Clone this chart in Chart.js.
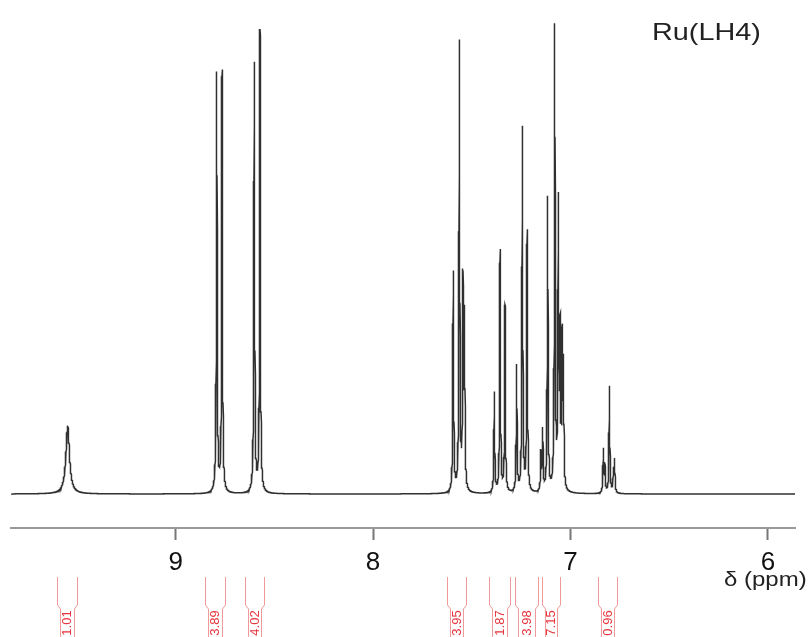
<!DOCTYPE html>
<html lang="en">
<head>
<meta charset="UTF-8" />
<title>Ru(LH4) 1H NMR</title>
<script src="https://cdn.jsdelivr.net/npm/chart.js"></script>
<style>
  html, body { margin: 0; padding: 0; background: #fff; }
  #wrap { width: 809px; height: 637px; }
</style>
</head>
<body>
<div id="wrap"><canvas id="nmr" width="809" height="637"></canvas></div>

<script>
  // peak list (ppm, intensity, half width in ppm)
  const peakShifts = [9.547, 8.792, 8.765, 8.602, 8.573,
                      7.594, 7.563, 7.545, 7.537,
                      7.386, 7.357, 7.332,
                      7.273, 7.244, 7.220,
                      7.150, 7.141, 7.116, 7.080, 7.062, 7.053, 7.043, 7.036,
                      6.834, 6.826, 6.803, 6.783, 6.777];
  const peakHeights = [68, 419, 421, 429, 462,
                       220, 448, 203, 168,
                       100, 242, 186,
                       126, 364, 260,
                       38, 60, 294, 462, 280, 148, 143, 118,
                       43, 27, 107, 21, 32];
  const peakWidths = [0.011, 0.0024, 0.0024, 0.0024, 0.0024,
                      0.0024, 0.0024, 0.0024, 0.0024,
                      0.0024, 0.0024, 0.0024,
                      0.0024, 0.0024, 0.0024,
                      0.0024, 0.0024, 0.0024, 0.0024, 0.0024, 0.0024, 0.0024, 0.0024,
                      0.0024, 0.0024, 0.0024, 0.0024, 0.0024];

  const xTicks = [9, 8, 7, 6];
  const ppmMin = 5.863, ppmMax = 9.834;

  // integration regions
  const integralFrom = [9.601, 8.849, 8.649, 7.627, 7.413, 7.282, 7.146, 6.863];
  const integralTo = [9.497, 8.746, 8.548, 7.525, 7.303, 7.162, 7.047, 6.759];
  const integralLabels = ["1.01", "3.89", "4.02", "3.95", "1.87", "3.98", "7.15", "0.96"];

  // lorentzian line shape sampled on a fine grid (plus the exact peak centres)
  const grid = [];
  const N = 8000;
  for (let i = 0; i <= N; i++) grid.push(ppmMin + (ppmMax - ppmMin) * i / N);
  grid.push(...peakShifts);
  grid.sort((a, b) => a - b);
  const spectrum = grid.map(x => {
    let y = 0;
    for (let k = 0; k < peakShifts.length; k++) {
      const d = (x - peakShifts[k]) / peakWidths[k];
      y += peakHeights[k] / (1 + d * d);
    }
    return { x: x, y: y };
  });

  // draw text squeezed/stretched horizontally like the scanned figure
  function wideText(ctx, txt, x, y, sx) {
    ctx.save();
    ctx.translate(x, y);
    ctx.scale(sx, 1);
    ctx.fillText(txt, 0, 0);
    ctx.restore();
  }

  const extras = {
    id: "extras",
    afterDraw(chart) {
      const ctx = chart.ctx;
      const xs = chart.scales.x;
      ctx.save();

      // integral brackets
      integralFrom.forEach((f, i) => {
        const a = xs.getPixelForValue(f), b = xs.getPixelForValue(integralTo[i]);
        const l = Math.round(Math.min(a, b)) + 0.5, r = Math.round(Math.max(a, b)) - 0.5;
        ctx.strokeStyle = "#f19a9a";
        ctx.lineWidth = 1;
        ctx.beginPath();
        ctx.moveTo(l, 577); ctx.lineTo(l, 605); ctx.lineTo(l + 3, 609); ctx.lineTo(l + 3, 637);
        ctx.moveTo(r, 577); ctx.lineTo(r, 605); ctx.lineTo(r - 3, 609); ctx.lineTo(r - 3, 637);
        ctx.stroke();

        ctx.save();
        ctx.translate((l + r) / 2, 623);
        ctx.rotate(-Math.PI / 2);
        ctx.fillStyle = "#e8343c";
        ctx.font = '13px "Liberation Sans", Arial, sans-serif';
        ctx.textAlign = "center";
        ctx.textBaseline = "middle";
        ctx.fillText(integralLabels[i], 0, 0);
        ctx.restore();
      });

      ctx.fillStyle = "#222";
      ctx.textBaseline = "alphabetic";
      ctx.textAlign = "left";
      ctx.font = '24px "Liberation Sans", Arial, sans-serif';
      wideText(ctx, "Ru(LH4)", 652, 40, 1.2);
      ctx.font = '20px "Liberation Sans", Arial, sans-serif';
      wideText(ctx, "δ (ppm)", 724, 586, 1.2);
      ctx.restore();
    }
  };

  new Chart(document.getElementById("nmr"), {
    type: "line",
    data: {
      datasets: [{
        data: spectrum,
        borderColor: "#303030",
        borderWidth: 1.5,
        pointRadius: 0,
        tension: 0,
        fill: false
      }]
    },
    options: {
      responsive: false,
      animation: false,
      parsing: false,
      normalized: true,
      events: [],
      layout: { padding: { left: 11, right: 14, top: 0, bottom: 0 } },
      plugins: { legend: { display: false }, tooltip: { enabled: false } },
      scales: {
        x: {
          type: "linear",
          reverse: true,
          min: ppmMin,
          max: ppmMax,
          afterBuildTicks: (s) => { s.ticks = xTicks.map(v => ({ value: v })); },
          afterFit: (s) => { s.height = 109; },
          grid: { drawOnChartArea: false, drawTicks: true, tickLength: 12, tickColor: "#777", tickWidth: 2 },
          border: { display: true, color: "#999", width: 2 },
          ticks: {
            color: "#111",
            padding: 7,
            font: { family: '"Liberation Sans", Arial, sans-serif', size: 26 },
            callback: (v) => v
          }
        },
        y: {
          display: false,
          min: -34,
          max: 494
        }
      }
    },
    plugins: [extras]
  });
</script>
</body>
</html>
